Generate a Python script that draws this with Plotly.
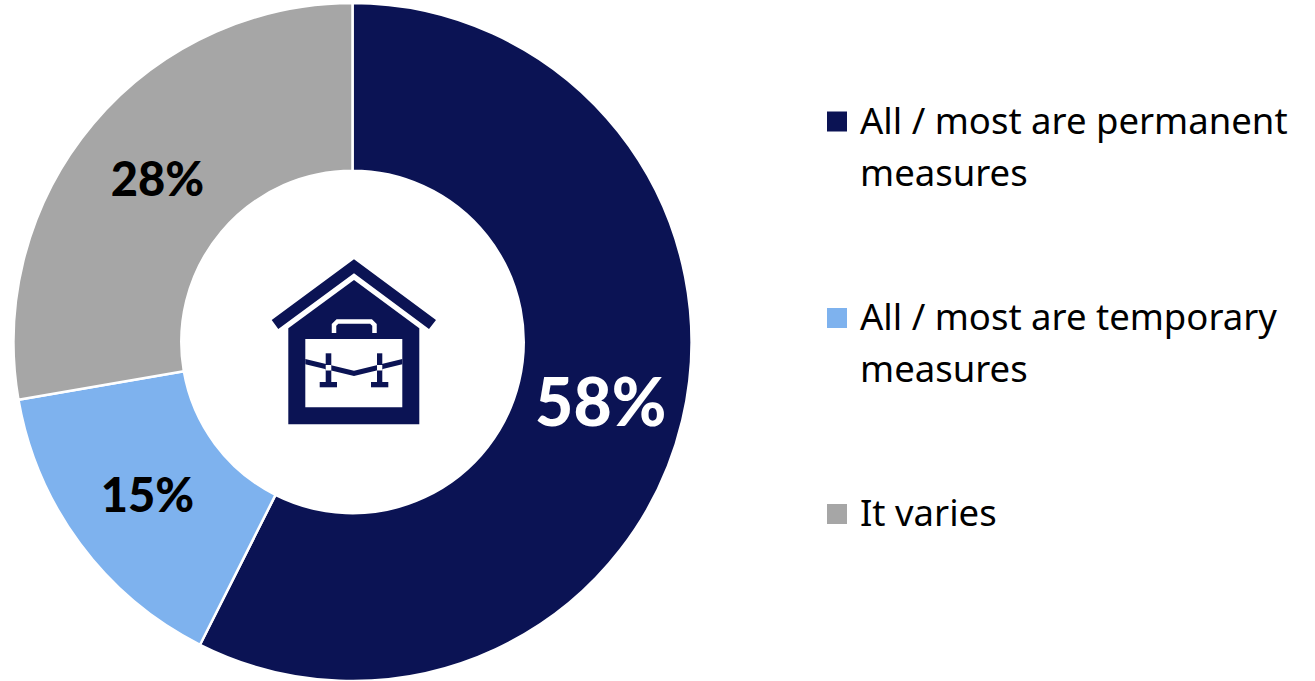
import plotly.graph_objects as go

# Survey shares
categories = ["All / most are permanent\nmeasures", "All / most are temporary\nmeasures", "It varies"]
shares = [58, 15, 28]
share_labels = ["58%", "15%", "28%"]
colors = ["#0B1354", "#7EB2EE", "#A6A6A6"]
label_colors = ["#FFFFFF", "#000000", "#000000"]
label_sizes = [66, 47, 47]

W, H = 1315, 681
LABEL_FONT = "Lato"
LEGEND_FONT = "Noto Sans"
NAVY = colors[0]


def px(x):
    return x / W


def py(y):
    return 1 - y / H


def path(points, close=True):
    body = " L ".join(f"{px(x):.5f},{py(y):.5f}" for x, y in points)
    return "M " + body + (" Z" if close else "")


def poly(points, fill):
    return dict(type="path", xref="paper", yref="paper", path=path(points),
                fillcolor=fill, line=dict(width=0), layer="above")


def rect(x0, y0, x1, y1, fill):
    return poly([(x0, y0), (x1, y0), (x1, y1), (x0, y1)], fill)


fig = go.Figure(go.Pie(
    labels=[c.replace("\n", " ") for c in categories],
    values=shares,
    text=share_labels,
    textinfo="text",
    textposition="inside",
    insidetextorientation="horizontal",
    textfont=dict(family=LABEL_FONT, size=label_sizes, color=label_colors, weight=900),
    marker=dict(colors=colors, line=dict(color="#FFFFFF", width=2.5)),
    hole=0.505,
    sort=False,
    direction="clockwise",
    rotation=0,
    showlegend=False,
    domain=dict(x=[px(13.5), px(691.5)], y=[py(681), py(3)]),
))

shapes = []
annotations = []

# Legend: square swatch followed by one or two lines of text
legend_tops = [111.5, 308, 504]
for top, name, color in zip(legend_tops, categories, colors):
    shapes.append(rect(827, top, 847, top + 20, color))
    for i, line in enumerate(name.split("\n")):
        annotations.append(dict(
            x=px(858), y=py(top + 8 + 52 * i), xref="paper", yref="paper",
            xanchor="left", yanchor="middle", showarrow=False, text=line,
            font=dict(family=LEGEND_FONT, size=36.5, color="#000000"),
        ))

# House with a briefcase in the middle of the ring
shapes += [
    poly([(354, 259.3), (436, 320), (429, 329), (354, 273.3), (278.3, 329), (271.7, 320)], NAVY),
    poly([(354, 280), (419.3, 328.3), (419.3, 424.3), (288.3, 424.3), (288.3, 328.3)], NAVY),
    rect(305.3, 339, 402.3, 407.3, "#FFFFFF"),
    dict(type="path", xref="paper", yref="paper", layer="above",
         path=path([(334, 333), (334, 325), (337.5, 321.5), (371, 321.5), (374.5, 325), (374.5, 333)], close=False),
         line=dict(color="#FFFFFF", width=4.5), fillcolor="rgba(0,0,0,0)"),
    poly([(305.3, 359), (354, 370.7), (402.3, 359), (402.3, 364.3), (354, 376), (305.3, 364.3)], NAVY),
    rect(325.7, 353.3, 331.3, 383, NAVY),
    rect(319.7, 382, 337, 387.3, NAVY),
    rect(377, 353.3, 382.3, 383, NAVY),
    rect(371, 382, 388.3, 387.3, NAVY),
    rect(325.7, 365, 331.3, 370.5, "#FFFFFF"),
    rect(377, 365, 382.3, 370.5, "#FFFFFF"),
]

fig.update_layout(
    width=W, height=H,
    margin=dict(l=0, r=0, t=0, b=0),
    paper_bgcolor="#FFFFFF",
    shapes=shapes,
    annotations=annotations,
)

fig.write_html("out.html", config=dict(displayModeBar=False))
